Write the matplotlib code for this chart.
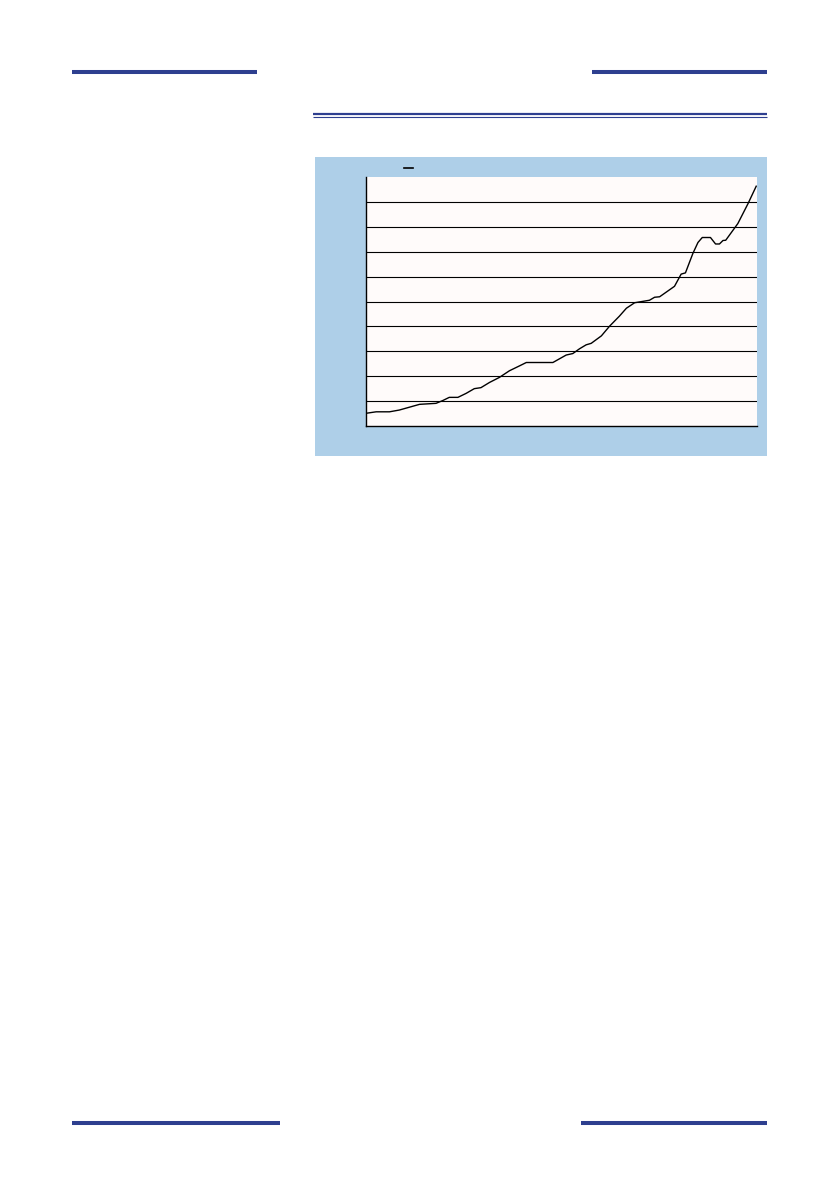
import matplotlib
matplotlib.use("Agg")
import matplotlib.pyplot as plt
from matplotlib.patches import Rectangle
from matplotlib.lines import Line2D

# series (x = position along the period, 0..100; y = grid units)
period = [0, 2.6, 6.0, 8.5, 13.7, 17.9, 19.6, 21.3, 23.5, 25.6, 27.7, 29.4,
          31.6, 34.1, 36.7, 39.2, 41.0, 47.8, 51.2, 52.9, 54.6, 56.3, 57.6,
          60.2, 62.3, 64.8, 66.6, 68.7, 72.5, 73.8, 75.1, 78.9, 80.6, 81.7,
          83.6, 84.9, 86.0, 88.1, 89.4, 90.4, 91.3, 92.0, 95.1, 97.7, 99.8]
values = [0.51, 0.57, 0.57, 0.64, 0.87, 0.91, 1.02, 1.15, 1.15, 1.31, 1.50, 1.54,
          1.75, 1.95, 2.22, 2.41, 2.55, 2.55, 2.85, 2.91, 3.10, 3.26, 3.32,
          3.62, 4.01, 4.41, 4.73, 4.95, 5.05, 5.17, 5.19, 5.61, 6.10, 6.15,
          6.93, 7.37, 7.57, 7.57, 7.31, 7.31, 7.45, 7.46, 8.13, 8.93, 9.63]
grid_levels = [1, 2, 3, 4, 5, 6, 7, 8, 9]

W, H = 839, 1194
navy = "#2e3f8f"
box_blue = "#aecfe8"

fig = plt.figure(figsize=(W / 100, H / 100), dpi=100)
fig.patch.set_facecolor("white")

def px_line(x0, x1, y, lw, color=navy):
        # horizontal rule in pixel coordinates (y from top)
        fig.add_artist(Line2D([x0 / W, x1 / W], [1 - y / H, 1 - y / H],
                              color=color, linewidth=lw, solid_capstyle="butt"))

# page rules
px_line(72, 257, 71.5, 2.9)
px_line(592, 767, 71.5, 2.9)
px_line(313, 767, 114.3, 1.6)
px_line(313, 767, 116.5, 0.8)
px_line(72, 280, 1122.5, 2.9)
px_line(581, 767, 1122.5, 2.9)

# light blue chart box
fig.add_artist(Rectangle((315 / W, 1 - 456 / H), (767 - 315) / W, (456 - 157) / H,
                         facecolor=box_blue, edgecolor="none", zorder=0))

# legend dash
fig.add_artist(Line2D([404 / W, 413 / W], [1 - 168 / H, 1 - 168 / H],
                      color="black", linewidth=1.2))

ax = fig.add_axes([366 / W, 1 - 426 / H, (757 - 366) / W, (426 - 177) / H])
ax.set_facecolor("#fffbfa")
ax.set_xlim(0, 100)
ax.set_ylim(0, 10)
for lvl in grid_levels:
        ax.axhline(lvl, color="black", linewidth=0.8, zorder=1)
ax.plot(period, values, color="black", linewidth=1.0, zorder=3)

ax.spines["top"].set_visible(False)
ax.spines["right"].set_visible(False)
ax.spines["left"].set_linewidth(1.0)
ax.spines["bottom"].set_linewidth(1.0)
ax.set_xticks([])
ax.set_yticks([])

fig.savefig("out.png", dpi=100)
